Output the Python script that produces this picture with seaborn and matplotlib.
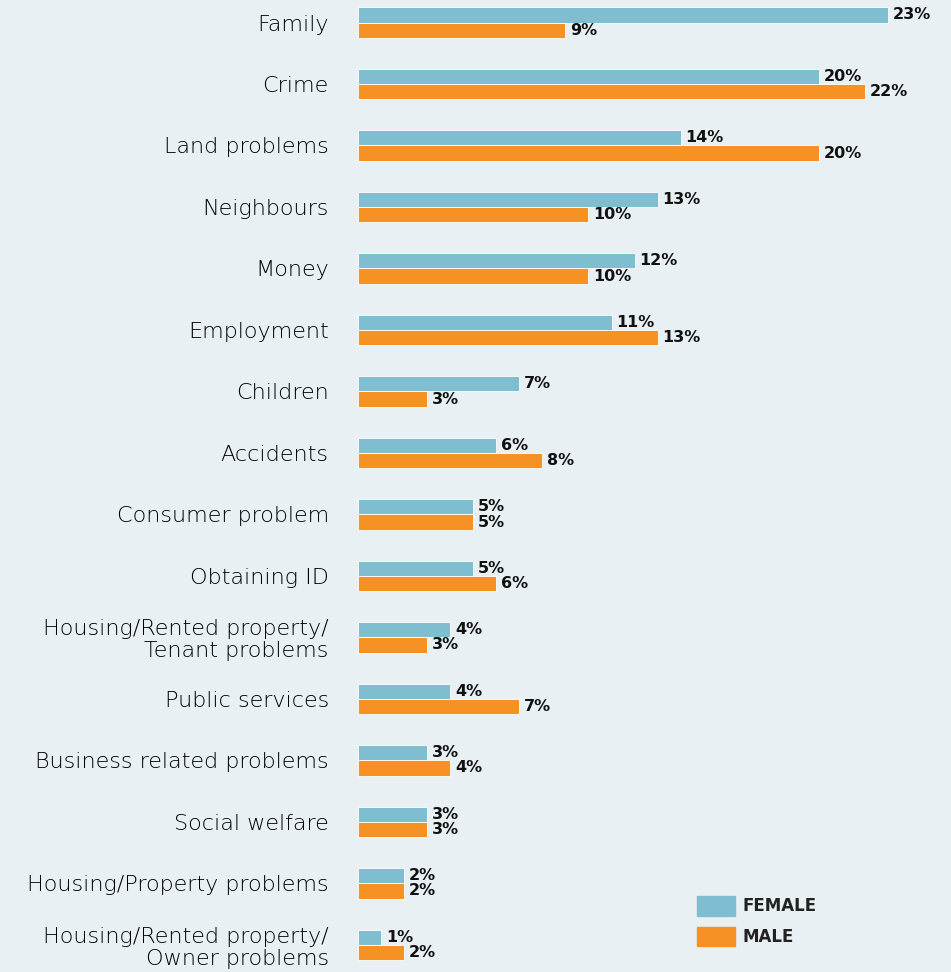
import pandas as pd
import seaborn as sns
import matplotlib.pyplot as plt
import matplotlib.patches as mpatches


CATEGORIES = [
    "Family", "Crime", "Land problems", "Neighbours", "Money", "Employment",
    "Children", "Accidents", "Consumer problem", "Obtaining ID",
    "Housing/Rented property/\nTenant problems", "Public services",
    "Business related problems", "Social welfare",
    "Housing/Property problems", "Housing/Rented property/\nOwner problems",
]
FEMALE = [23, 20, 14, 13, 12, 11, 7, 6, 5, 5, 4, 4, 3, 3, 2, 1]
MALE = [9, 22, 20, 10, 10, 13, 3, 8, 5, 6, 3, 7, 4, 3, 2, 2]
GROUPS = ["FEMALE", "MALE"]

BG_COLOR = "#e8f0f3"
FEMALE_COLOR = "#7fbdd0"
MALE_COLOR = "#f59223"
TEXT_COLOR = "#222222"


def main():
    sns.set_theme(style="white")
    plt.rcParams["font.family"] = ["DejaVu Sans"]

    rows = []
    for cat, f, m in zip(CATEGORIES, FEMALE, MALE):
        rows.append({"category": cat, "gender": "FEMALE", "value": f})
        rows.append({"category": cat, "gender": "MALE", "value": m})
    df = pd.DataFrame(rows)

    fig = plt.figure(figsize=(9.51, 9.72), dpi=100, facecolor=BG_COLOR)
    ax = fig.add_axes([358 / 951, 0, 1 - 358 / 951, 1])
    ax.set_facecolor(BG_COLOR)

    sns.barplot(ax=ax, data=df, y="category", x="value", hue="gender",
                hue_order=GROUPS, order=CATEGORIES, orient="h",
                palette=[FEMALE_COLOR, MALE_COLOR], saturation=1,
                width=0.49, edgecolor="white", linewidth=0.6, legend=False)

    for cont in ax.containers:
        ax.bar_label(cont, labels=[f"{v:.0f}%" for v in cont.datavalues],
                     padding=3.5, fontsize=11.5, fontweight="bold",
                     color="#111111", clip_on=False)

    ax.set_xlim(0, 25.73)
    ax.set_ylim(15.44, -0.366)
    ax.set_xlabel("")
    ax.set_ylabel("")
    ax.set_xticks([])
    ax.tick_params(axis="y", length=0, pad=21, labelsize=16,
                   labelcolor="#000000")
    for lbl in ax.get_yticklabels():
        lbl.set_fontweight("light")
        lbl.set_multialignment("right")
        lbl.set_linespacing(1.1)
    sns.despine(ax=ax, left=True, bottom=True)

    handles = [
        mpatches.Patch(color=FEMALE_COLOR, label="FEMALE"),
        mpatches.Patch(color=MALE_COLOR, label="MALE"),
    ]
    leg = fig.legend(handles=handles, loc="upper left",
                     bbox_to_anchor=(697 / 951, 1 - 896 / 972),
                     frameon=False, borderpad=0, borderaxespad=0,
                     handlelength=2.3, handleheight=1.45,
                     handletextpad=0.45, labelspacing=0.65,
                     prop={"weight": "bold", "size": 12})
    for t in leg.get_texts():
        t.set_color(TEXT_COLOR)

    fig.savefig("out.png", dpi=100, facecolor=BG_COLOR)


if __name__ == "__main__":
    main()
